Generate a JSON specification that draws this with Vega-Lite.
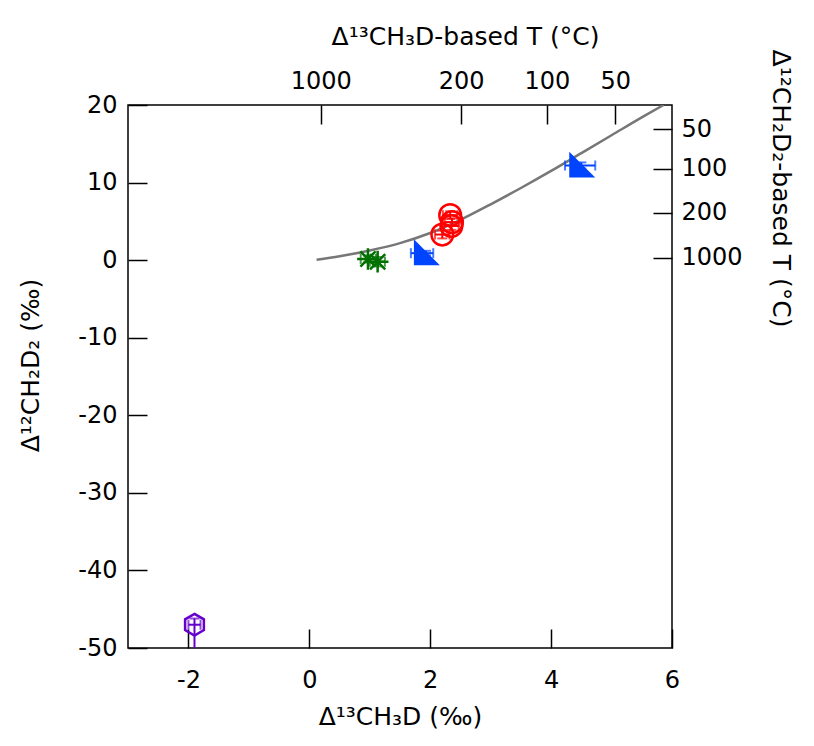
{
  "$schema": "https://vega.github.io/schema/vega-lite/v6.json",
  "width": 544,
  "height": 543,
  "padding": {"left": 18, "top": 24, "right": 5, "bottom": 5},
  "config": {
    "view": {"stroke": "black", "strokeWidth": 1.5},
    "font": "DejaVu Sans",
    "axis": {
      "grid": false, "domain": false, "tickColor": "black", "tickWidth": 1.5, "tickSize": -19,
      "labelFont": "DejaVu Sans", "labelFontSize": 24, "labelColor": "black",
      "titleFont": "DejaVu Sans", "titleFontSize": 25, "titleFontWeight": "normal", "titleColor": "black",
      "labelFlush": false, "labelOverlap": false
    },
    "legend": {
      "padding": 10,
      "strokeColor": "black", "fillColor": "white",
      "labelFont": "DejaVu Sans", "labelFontSize": 24, "labelColor": "black",
      "symbolSize": 400, "symbolStrokeWidth": 2.5, "labelOffset": 32,
      "rowPadding": 9, "labelLimit": 400
    }
  },
  "datasets": {
    "curve": [
      {"x": 0.12, "y": 0.05}, {"x": 0.5, "y": 0.5}, {"x": 1.0, "y": 1.25}, {"x": 1.5, "y": 2.2},
      {"x": 2.0, "y": 3.5}, {"x": 2.5, "y": 5.2}, {"x": 3.0, "y": 7.2}, {"x": 3.5, "y": 9.3},
      {"x": 4.0, "y": 11.5}, {"x": 4.5, "y": 13.8}, {"x": 5.0, "y": 16.1}, {"x": 5.5, "y": 18.4},
      {"x": 5.86, "y": 20.0}
    ],
    "samples": [
      {"type": "Reference Gases", "x": 2.33, "y": 5.8, "xlo": 2.21, "xhi": 2.45, "ylo": 5.3, "yhi": 6.3},
      {"type": "Reference Gases", "x": 2.36, "y": 4.9, "xlo": 2.24, "xhi": 2.48, "ylo": 4.4, "yhi": 5.4},
      {"type": "Reference Gases", "x": 2.35, "y": 4.4, "xlo": 2.23, "xhi": 2.47, "ylo": 3.9, "yhi": 4.9},
      {"type": "Reference Gases", "x": 2.2, "y": 3.3, "xlo": 2.08, "xhi": 2.32, "ylo": 2.8, "yhi": 3.8},
      {"type": "Natural Gas", "x": 1.93, "y": 0.9, "xlo": 1.68, "xhi": 2.05, "ylo": 0.6, "yhi": 1.2},
      {"type": "Natural Gas", "x": 4.5, "y": 12.2, "xlo": 4.23, "xhi": 4.73, "ylo": 11.8, "yhi": 12.6},
      {"type": "Steam vents", "x": 0.97, "y": 0.15, "xlo": 0.85, "xhi": 1.1, "ylo": -0.3, "yhi": 0.6},
      {"type": "Steam vents", "x": 1.13, "y": -0.2, "xlo": 1.0, "xhi": 1.25, "ylo": -0.8, "yhi": 0.4},
      {"type": "Microbial methane", "x": -1.9, "y": -47.0, "xlo": -2.0, "xhi": -1.8, "ylo": -53, "yhi": -46.2}
    ]
  },
  "layer": [
    {
      "data": {"name": "curve"},
      "mark": {"type": "line", "color": "#777777", "strokeWidth": 2.5, "interpolate": "monotone", "clip": true},
      "encoding": {
        "x": {"field": "x", "type": "quantitative", "scale": {"domain": [-3, 6], "nice": false, "zero": false},
          "axis": {"orient": "top", "values": [0.19, 2.51, 3.93, 5.06], "labelPadding": 31,
            "labelExpr": "datum.value < 1 ? '1000' : datum.value < 3 ? '200' : datum.value < 4.5 ? '100' : '50'",
            "title": "Δ¹³CH₃D-based T (°C)", "titleX": 337, "titleY": -61, "titleBaseline": "alphabetic"}},
        "y": {"field": "y", "type": "quantitative", "scale": {"domain": [-50, 20], "nice": false, "zero": false},
          "axis": {"orient": "right", "values": [0.28, 6.08, 11.75, 16.9], "labelPadding": 28,
            "labelExpr": "datum.value < 1 ? '1000' : datum.value < 7 ? '200' : datum.value < 14 ? '100' : '50'",
            "title": "Δ¹²CH₂D₂-based T (°C)", "titleX": 100, "titleY": 83, "titleAngle": 90, "titleBaseline": "alphabetic"}}
      }
    },
    {
      "data": {"name": "samples"},
      "mark": {"type": "rule", "strokeWidth": 2, "clip": true},
      "encoding": {
        "x": {"field": "xlo", "type": "quantitative", "scale": {"domain": [-3, 6], "nice": false, "zero": false},
          "axis": {"orient": "bottom", "values": [-2, 0, 2, 4, 6], "labelPadding": 39,
            "labelExpr": "'' + datum.value",
            "title": "Δ¹³CH₃D (‰)", "titleX": 272, "titleY": 76, "titleBaseline": "alphabetic"}},
        "x2": {"field": "xhi"},
        "y": {"field": "y", "type": "quantitative", "scale": {"domain": [-50, 20], "nice": false, "zero": false},
          "axis": {"orient": "left", "values": [-50, -40, -30, -20, -10, 0, 10, 20], "labelPadding": 30,
            "labelExpr": "'' + datum.value",
            "title": "Δ¹²CH₂D₂ (‰)", "titleX": -90, "titleY": 260, "titleBaseline": "alphabetic"}},
        "color": {"field": "type", "type": "nominal", "legend": null,
          "scale": {"domain": ["Reference Gases", "Natural Gas", "Steam vents", "Microbial methane"],
            "range": ["#ff0000", "#0044ff", "#007000", "#6600cc"]}}
      }
    },
    {
      "data": {"name": "samples"},
      "mark": {"type": "rule", "strokeWidth": 2, "clip": true},
      "encoding": {
        "x": {"field": "x", "type": "quantitative", "scale": {"domain": [-3, 6], "nice": false, "zero": false}, "axis": null},
        "y": {"field": "ylo", "type": "quantitative", "scale": {"domain": [-50, 20], "nice": false, "zero": false}, "axis": null},
        "y2": {"field": "yhi"},
        "color": {"field": "type", "type": "nominal", "legend": null}
      }
    },
    {
      "data": {"name": "samples"},
      "transform": [{"fold": ["xlo", "xhi"], "as": ["k", "xv"]}],
      "mark": {"type": "tick", "orient": "vertical", "size": 10, "thickness": 2, "clip": true},
      "encoding": {
        "x": {"field": "xv", "type": "quantitative", "scale": {"domain": [-3, 6], "nice": false, "zero": false}, "axis": null},
        "y": {"field": "y", "type": "quantitative", "scale": {"domain": [-50, 20], "nice": false, "zero": false}, "axis": null},
        "color": {"field": "type", "type": "nominal", "legend": null}
      }
    },
    {
      "data": {"name": "samples"},
      "transform": [{"fold": ["ylo", "yhi"], "as": ["k", "yv"]}],
      "mark": {"type": "tick", "orient": "horizontal", "size": 10, "thickness": 2, "clip": true},
      "encoding": {
        "x": {"field": "x", "type": "quantitative", "scale": {"domain": [-3, 6], "nice": false, "zero": false}, "axis": null},
        "y": {"field": "yv", "type": "quantitative", "scale": {"domain": [-50, 20], "nice": false, "zero": false}, "axis": null},
        "color": {"field": "type", "type": "nominal", "legend": null}
      }
    },
    {
      "data": {"name": "samples"},
      "mark": {"type": "point", "size": 470, "strokeWidth": 2.5, "opacity": 1, "fillOpacity": 1},
      "encoding": {
        "x": {"field": "x", "type": "quantitative", "scale": {"domain": [-3, 6], "nice": false, "zero": false}, "axis": null},
        "y": {"field": "y", "type": "quantitative", "scale": {"domain": [-50, 20], "nice": false, "zero": false}, "axis": null},
        "shape": {"field": "type", "type": "nominal",
          "legend": {"title": null, "orient": "none", "legendX": 185, "legendY": 361, "symbolOffset": 17},
          "scale": {"domain": ["Reference Gases", "Natural Gas", "Steam vents", "Microbial methane"],
            "range": ["circle", "M-1,-1L-1,1L1,1Z", "M-1,0L1,0M0,-1L0,1M-0.7,-0.7L0.7,0.7M-0.7,0.7L0.7,-0.7", "M0,-1L0.866,-0.5L0.866,0.5L0,1L-0.866,0.5L-0.866,-0.5Z"]}},
        "stroke": {"field": "type", "type": "nominal",
          "legend": {"title": null, "orient": "none", "legendX": 185, "legendY": 361, "symbolOffset": 17},
          "scale": {"domain": ["Reference Gases", "Natural Gas", "Steam vents", "Microbial methane"],
            "range": ["#ff0000", "#0044ff", "#007000", "#6600cc"]}},
        "fill": {"field": "type", "type": "nominal",
          "legend": {"title": null, "orient": "none", "legendX": 185, "legendY": 361, "symbolOffset": 17},
          "scale": {"domain": ["Reference Gases", "Natural Gas", "Steam vents", "Microbial methane"],
            "range": ["transparent", "#0044ff", "transparent", "transparent"]}}
      }
    }
  ],
  "resolve": {"scale": {"x": "independent", "y": "independent"}}
}
